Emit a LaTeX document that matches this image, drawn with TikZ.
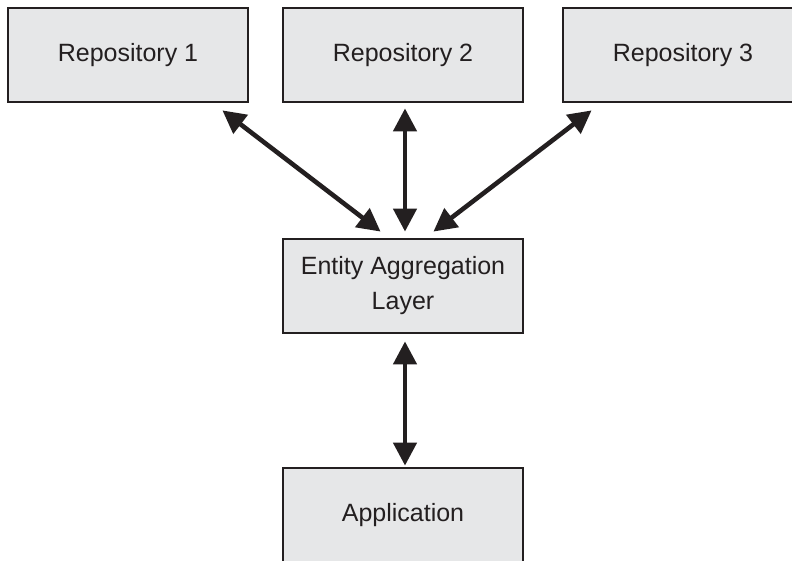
\documentclass[tikz,border=0pt]{standalone}
\usepackage{fontspec}
\setmainfont{Liberation Sans}
\usetikzlibrary{arrows.meta,calc}
\definecolor{ink}{HTML}{231F20}
\definecolor{boxfill}{HTML}{E6E7E8}
\begin{document}
\begin{tikzpicture}[x=1pt,y=-1pt,
  box/.style={draw=ink,fill=boxfill,line width=2.8pt,minimum width=240pt,minimum height=94pt,
    inner sep=0pt,align=center,text=ink,font=\fontsize{25}{35}\selectfont},
  link/.style={draw=ink,line width=4.6pt,{Triangle[length=23pt,width=23pt]}-{Triangle[length=23pt,width=23pt]}}]
\useasboundingbox (0,0) rectangle (792,561);
\clip (0,0) rectangle (792,561);
\fill[white] (0,0) rectangle (792,561);
\node[box] (r1) at (128,55) {Repository 1};
\node[box] (r2) at (403,55) {Repository 2};
\node[box] (r3) at (683,55) {Repository 3};
\node[box] (eal) at (403,286) {Entity Aggregation\\Layer};
\node[box] (app) at (403,515) {Application};
\coordinate (a1s) at ($(r1.south east)+(-27,7)$);
\coordinate (a1e) at ($(eal.north west)+(99,-6)$);
\coordinate (a2s) at ($(r2.south)+(2,5)$);
\coordinate (a2e) at ($(eal.north)+(2,-6)$);
\coordinate (a3s) at ($(r3.south west)+(30,7)$);
\coordinate (a3e) at ($(eal.north east)+(-91,-6)$);
\coordinate (a4s) at ($(eal.south)+(2,7)$);
\coordinate (a4e) at ($(app.north)+(2,-1)$);
\draw[link] (a1s) -- (a1e);
\draw[link] (a2s) -- (a2e);
\draw[link] (a3s) -- (a3e);
\draw[link] (a4s) -- (a4e);
\end{tikzpicture}
\end{document}
